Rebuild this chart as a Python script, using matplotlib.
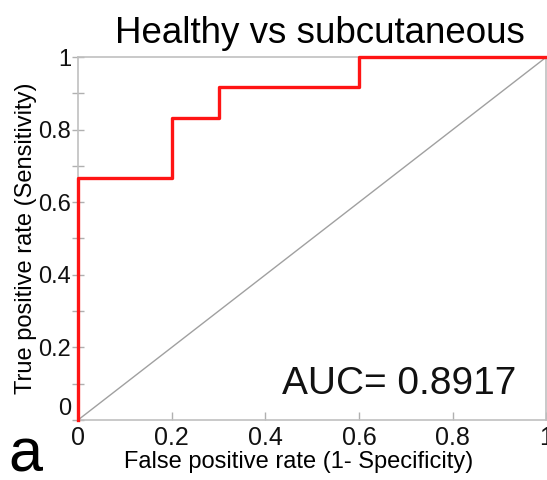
import matplotlib.pyplot as plt
from matplotlib.ticker import MultipleLocator

plt.rcParams['font.family'] = ['Liberation Sans', 'DejaVu Sans']

fpr = [0, 0, 0.2, 0.2, 0.3, 0.3, 0.6, 0.6, 1.0]
tpr = [0, 0.6667, 0.6667, 0.8333, 0.8333, 0.9167, 0.9167, 1.0, 1.0]
auc = 0.8917
ticks = [0, 0.2, 0.4, 0.6, 0.8, 1]
tick_labels = ['0', '0.2', '0.4', '0.6', '0.8', '1']

fig = plt.figure(figsize=(5.47, 4.8), dpi=100)
ax = fig.add_axes([78 / 547, 1 - 420 / 480, 1 - 78 / 547 - 0.001, (420 - 57) / 480])

ax.plot([0, 1], [0, 1], color='#a0a0a0', lw=1)
ax.plot(fpr, tpr, color='#ff1414', lw=2.4, clip_on=False, zorder=3)

ax.set_xlim(0, 1)
ax.set_ylim(0, 1)
ax.set_xticks(ticks)
ax.set_xticklabels(tick_labels)
ax.set_yticks(ticks)
ax.set_yticklabels(tick_labels)
ax.yaxis.set_minor_locator(MultipleLocator(0.1))
ax.tick_params(axis='both', which='both', colors='#b0b0b0', labelcolor='#111111',
               direction='inout', length=8, width=1, pad=1)
ax.tick_params(axis='y', labelsize=17)
ax.tick_params(axis='x', direction='in', length=6, pad=4, labelsize=18)
ax.get_yticklabels()[0].set_va('bottom')
for s in ax.spines.values():
    s.set_color('#c0c0c0')
    s.set_linewidth(1.2)

ax.set_title('Healthy vs subcutaneous', fontsize=26.5, pad=10, x=0.517)
ax.set_xlabel('False positive rate (1- Specificity)', fontsize=17, labelpad=0)
ax.xaxis.set_label_coords(0.47, -0.085)
ax.set_ylabel('True positive rate (Sensitivity)', fontsize=17, labelpad=1)
ax.text(0.935, 0.10, f'AUC= {auc}', fontsize=28, ha='right', va='center',
        transform=ax.transAxes, color='#111111')
fig.text(8 / 547, 1 - 471 / 480, 'a', fontsize=44, ha='left', va='baseline')

fig.savefig('out.png', dpi=100)
